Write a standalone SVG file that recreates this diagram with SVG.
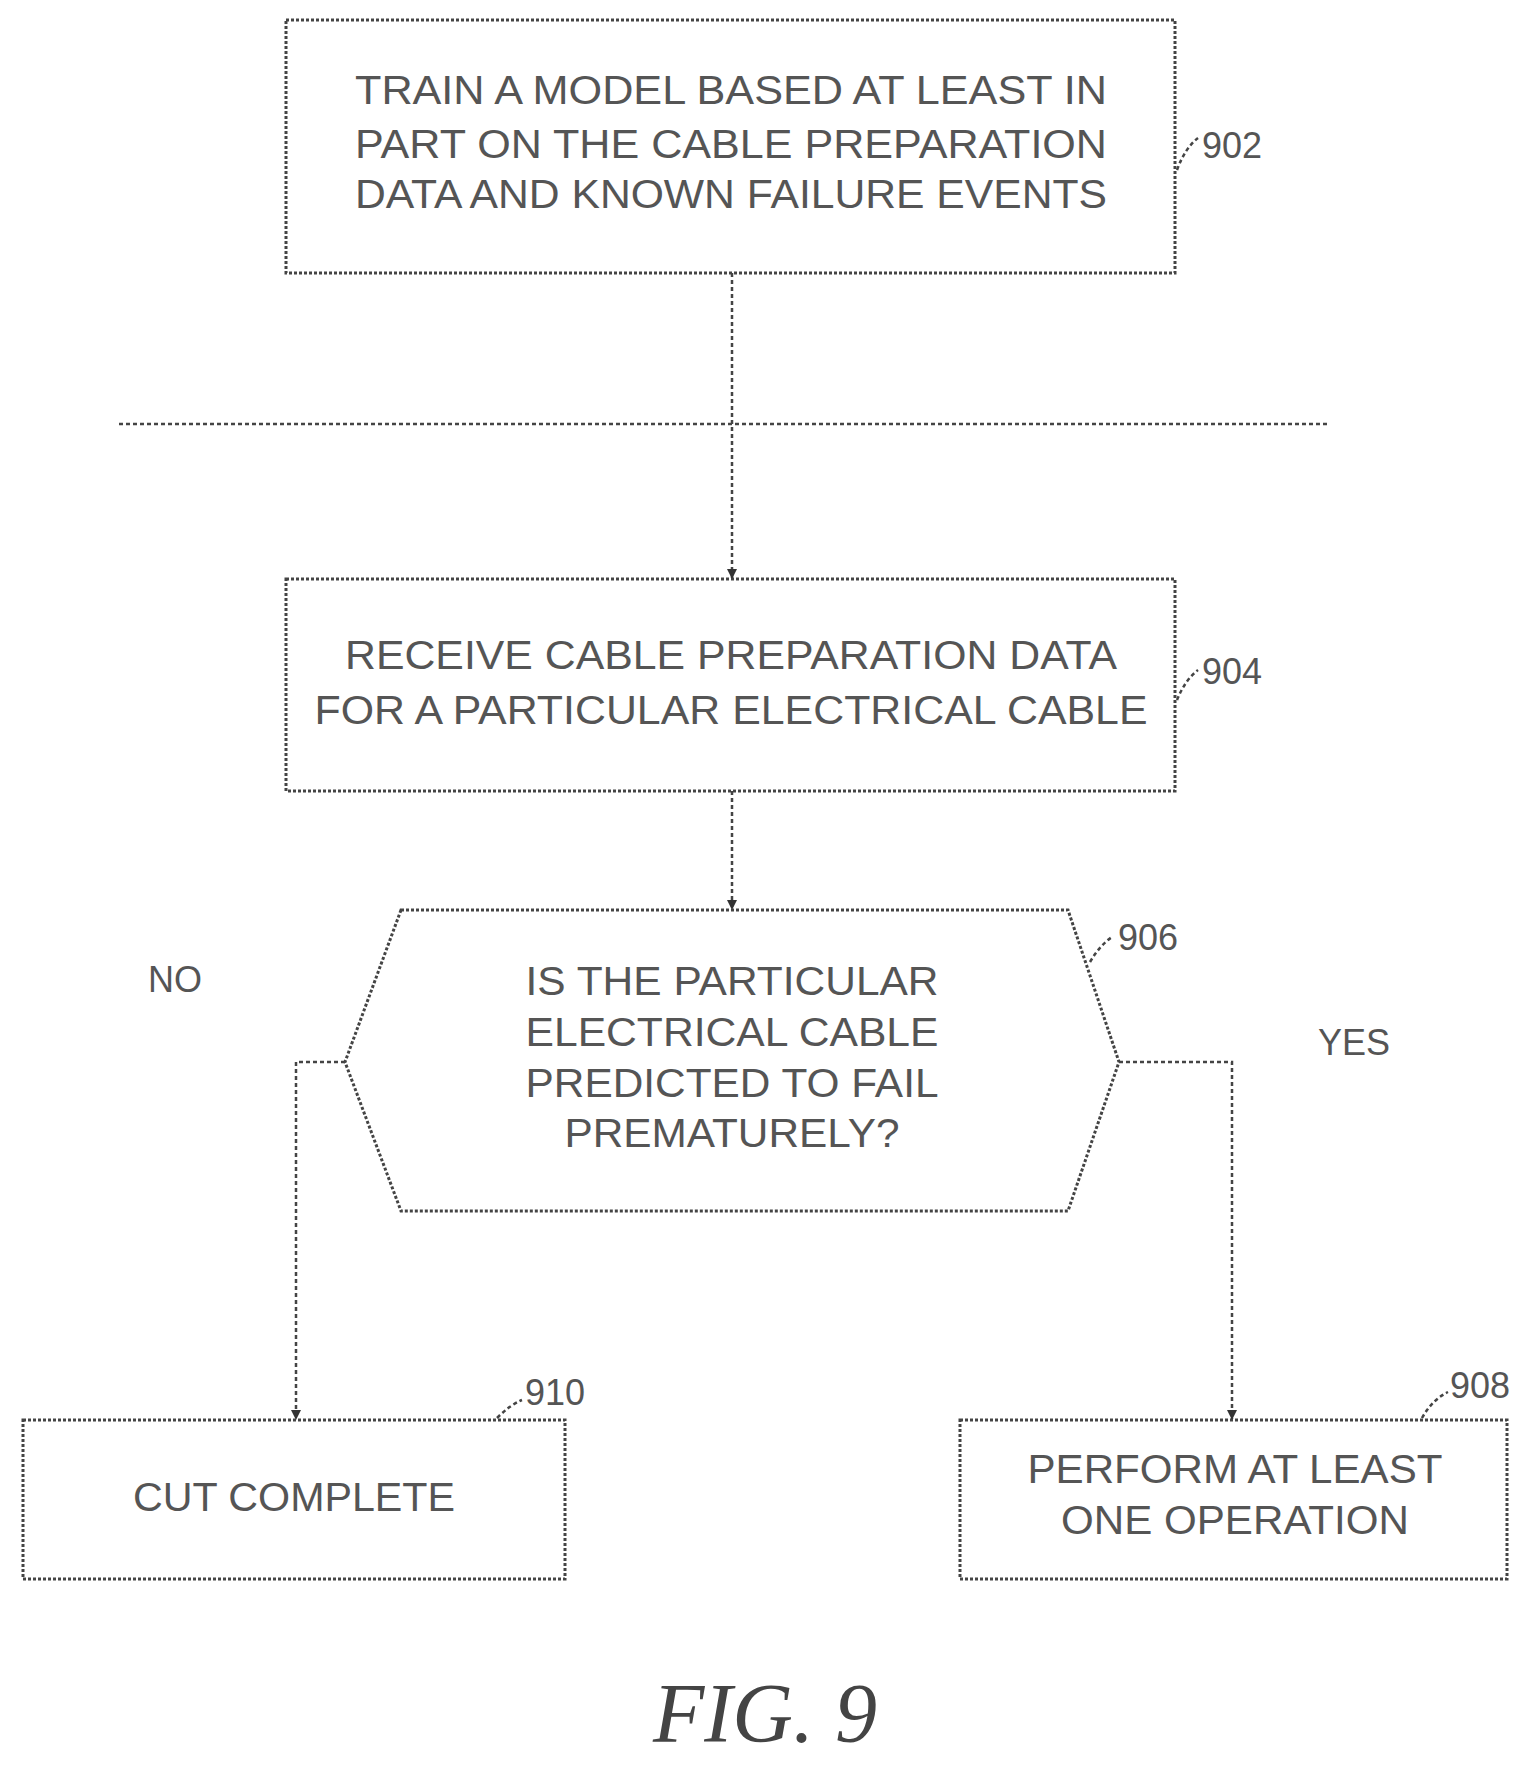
<svg xmlns="http://www.w3.org/2000/svg" width="1537" height="1771" viewBox="0 0 1537 1771">
<style>
.b{fill:#fff;stroke:#444;stroke-width:3;stroke-dasharray:3 2}
.t{font-family:"Liberation Sans",Arial,sans-serif;font-size:40px;fill:#555;text-anchor:middle}
.l{font-family:"Liberation Sans",Arial,sans-serif;font-size:36px;fill:#555}
.c{fill:none;stroke:#444;stroke-width:2.5;stroke-dasharray:4 3}
</style>
<defs><marker id="a" markerWidth="10" markerHeight="10" refX="9" refY="5" orient="auto" markerUnits="userSpaceOnUse"><path d="M0,0 L10,5 L0,10 z" fill="#333"/></marker></defs>
<g id="n902"><rect class="b" x="286" y="20" width="889" height="253"/>
<text class="t" x="731" y="104" textLength="752" lengthAdjust="spacingAndGlyphs">TRAIN A MODEL BASED AT LEAST IN</text>
<text class="t" x="731" y="158" textLength="752" lengthAdjust="spacingAndGlyphs">PART ON THE  CABLE PREPARATION</text>
<text class="t" x="731" y="208" textLength="752" lengthAdjust="spacingAndGlyphs">DATA AND KNOWN FAILURE EVENTS</text>
<path class="c" d="M1177,170 Q1185,148 1198,138"/><text class="l" x="1202" y="158">902</text></g>
<g id="n904"><rect class="b" x="286" y="579" width="889" height="212"/>
<text class="t" x="731" y="669" textLength="772" lengthAdjust="spacingAndGlyphs">RECEIVE CABLE PREPARATION DATA</text>
<text class="t" x="731" y="724" textLength="833" lengthAdjust="spacingAndGlyphs">FOR A PARTICULAR ELECTRICAL CABLE</text>
<path class="c" d="M1177,700 Q1185,680 1198,670"/><text class="l" x="1202" y="684">904</text></g>
<g id="n906"><path class="b" d="M401,910 L1068,910 L1119,1062 L1068,1211 L401,1211 L345,1062 Z"/>
<text class="t" x="732" y="995" textLength="413" lengthAdjust="spacingAndGlyphs">IS THE PARTICULAR</text>
<text class="t" x="732" y="1046" textLength="413" lengthAdjust="spacingAndGlyphs">ELECTRICAL CABLE</text>
<text class="t" x="732" y="1097" textLength="413" lengthAdjust="spacingAndGlyphs">PREDICTED TO FAIL</text>
<text class="t" x="732" y="1147" textLength="335" lengthAdjust="spacingAndGlyphs">PREMATURELY?</text>
<path class="c" d="M1090,962 Q1100,945 1112,937"/><text class="l" x="1118" y="950">906</text></g>
<g id="n910"><rect class="b" x="23" y="1420" width="542" height="159"/>
<text class="t" x="294" y="1511" textLength="322" lengthAdjust="spacingAndGlyphs">CUT COMPLETE</text>
<path class="c" d="M497,1418 Q510,1405 522,1400"/><text class="l" x="525" y="1405">910</text></g>
<g id="n908"><rect class="b" x="960" y="1420" width="547" height="159"/>
<text class="t" x="1235" y="1483" textLength="415" lengthAdjust="spacingAndGlyphs">PERFORM AT LEAST</text>
<text class="t" x="1235" y="1534" textLength="348" lengthAdjust="spacingAndGlyphs">ONE OPERATION</text>
<path class="c" d="M1422,1418 Q1432,1400 1448,1392"/><text class="l" x="1450" y="1398">908</text></g>
<g id="connectors">
<line class="c" x1="119" y1="424" x2="1328" y2="424"/>
<path class="c" d="M732,273 L732,578" marker-end="url(#a)"/>
<path class="c" d="M732,791 L732,909" marker-end="url(#a)"/>
<path class="c" d="M345,1062 L296,1062 L296,1419" marker-end="url(#a)"/>
<path class="c" d="M1119,1062 L1232,1062 L1232,1419" marker-end="url(#a)"/>
</g>
<text class="l" x="148" y="992">NO</text>
<text class="l" x="1318" y="1055">YES</text>
<text x="765" y="1742" font-family="Liberation Serif,serif" font-style="italic" font-size="84" fill="#444" text-anchor="middle">FIG. 9</text>
</svg>
